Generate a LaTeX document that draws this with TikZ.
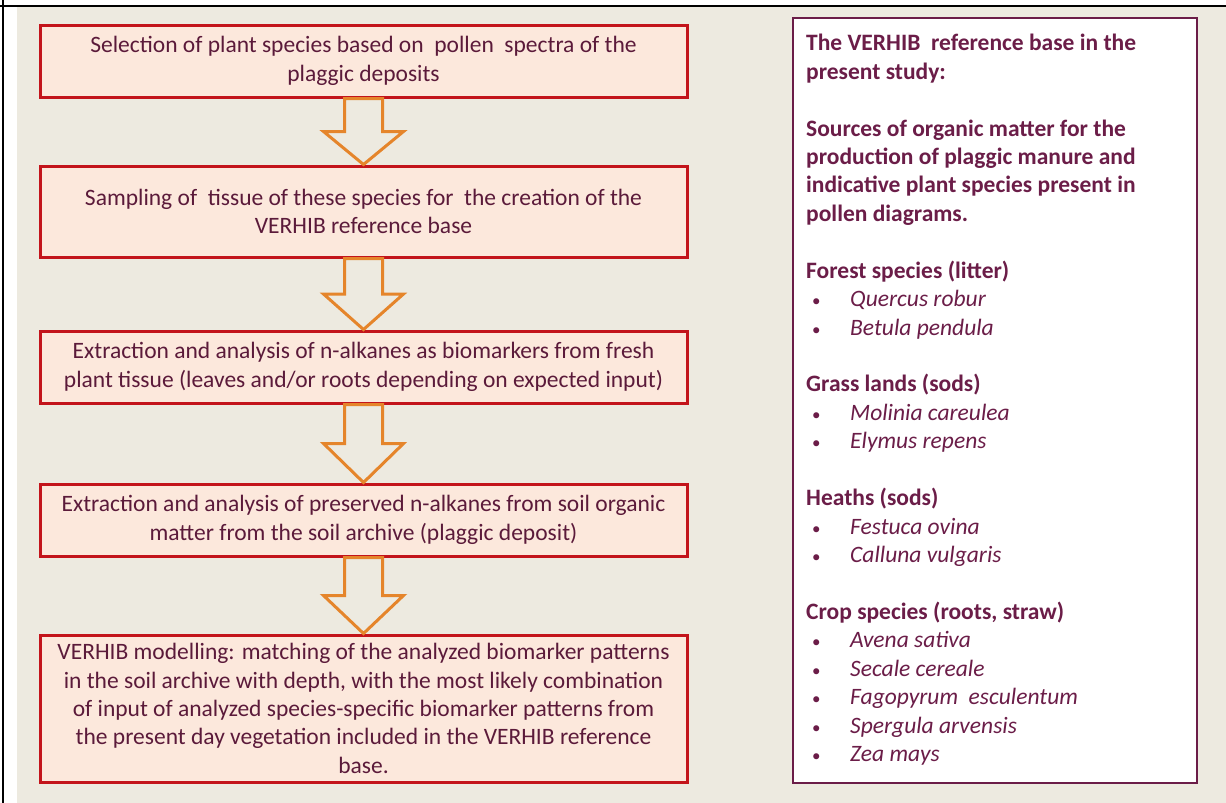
\documentclass[tikz,border=0pt]{standalone}
\usepackage{fontspec}
\setmainfont{Carlito}
\usetikzlibrary{calc}
\definecolor{paper}{HTML}{EDEAE0}
\definecolor{boxfill}{HTML}{FCE8DC}
\definecolor{boxred}{HTML}{C3141B}
\definecolor{steptext}{HTML}{5B1A3A}
\definecolor{plum}{HTML}{6B1D48}
\definecolor{arroworange}{HTML}{E5852B}
% hollow block arrow from one step to the next
\newcommand{\flowarrow}[2]{%
  \draw[hollow] let \p1=(#1.south), \p2=(#2.north), \n1={(\y1+\y2)/2} in
    (\x1-19pt,\y1) -- (\x1-19pt,\n1) -- (\x1-40pt,\n1) -- (\x1,\y2)
    -- (\x1+40pt,\n1) -- (\x1+19pt,\n1) -- (\x1+19pt,\y1) -- cycle;}
\newcommand{\spitem}[1]{\hspace*{6pt}\makebox[38pt][l]{\fontsize{17}{17}\selectfont\textbullet}\textit{#1}}
\begin{document}
\begin{tikzpicture}[x=1pt,y=-1pt,
  stepbox/.style={draw=boxred,line width=3pt,fill=boxfill,text=steptext,
    minimum width=647pt,align=center,inner sep=0pt,
    font=\fontsize{23.5}{28.4}\selectfont},
  hollow/.style={draw=arroworange,line width=3pt,line join=miter},
  listbox/.style={draw=plum,line width=1.8pt,fill=white,
    minimum width=404pt,minimum height=765pt,anchor=north west},
  listtext/.style={text=plum,align=left,inner sep=0pt,anchor=north west,
    font=\fontsize{23.5}{28.44}\selectfont}]
\useasboundingbox (0,0) rectangle (1226,803);
\fill[white] (0,0) rectangle (1226,803);
\fill[paper] (17,7) rectangle (1226,803);
\draw[line width=1.5pt] (0,6) -- (1226,6);
\draw[line width=1.5pt] (3,0) -- (3,803);

% the five steps
\node[stepbox,minimum height=72pt] (sel) at (363.5,61)
  {Selection of plant species based on\ \ pollen\ \ spectra of the\\ plaggic deposits};
\node[stepbox,minimum height=91pt] (samp) at (363.5,211.5)
  {Sampling of\ \ tissue of these species for\ \ the creation of the\\ VERHIB reference base};
\node[stepbox,minimum height=72pt] (extr) at (363.5,367)
  {Extraction and analysis of n-alkanes as biomarkers from fresh\\
   plant tissue (leaves and/or roots depending on expected input)};
\node[stepbox,minimum height=72pt] (pres) at (363.5,520)
  {Extraction and analysis of preserved n-alkanes from soil organic\\
   matter from the soil archive (plaggic deposit)};
\node[stepbox,minimum height=147pt] (model) at (363.5,708.5)
  {VERHIB modelling: matching of the analyzed biomarker patterns\\
   in the soil archive with depth, with the most likely combination\\
   of input of analyzed species-specific biomarker patterns from\\
   the present day vegetation included in the VERHIB reference\\
   base.};

\flowarrow{sel}{samp}
\flowarrow{samp}{extr}
\flowarrow{extr}{pres}
\flowarrow{pres}{model}

% reference base
\node[listbox] (base) at (792,17) {};
\node[listtext] (baselist) at (806,34)
  {\textbf{The VERHIB\ \ reference base in the}\\
   \textbf{present study:}\\[28.44pt]
   \textbf{Sources of organic matter for the}\\
   \textbf{production of plaggic manure and}\\
   \textbf{indicative plant species present in}\\
   \textbf{pollen diagrams.}\\[28.44pt]
   \textbf{Forest species (litter)}\\
   \spitem{Quercus robur}\\
   \spitem{Betula pendula}\\[28.44pt]
   \textbf{Grass lands (sods)}\\
   \spitem{Molinia careulea}\\
   \spitem{Elymus repens}\\[28.44pt]
   \textbf{Heaths (sods)}\\
   \spitem{Festuca ovina}\\
   \spitem{Calluna vulgaris}\\[28.44pt]
   \textbf{Crop species (roots, straw)}\\
   \spitem{Avena sativa}\\
   \spitem{Secale cereale}\\
   \spitem{Fagopyrum\ \ esculentum}\\
   \spitem{Spergula arvensis}\\
   \spitem{Zea mays}};
\end{tikzpicture}
\end{document}
